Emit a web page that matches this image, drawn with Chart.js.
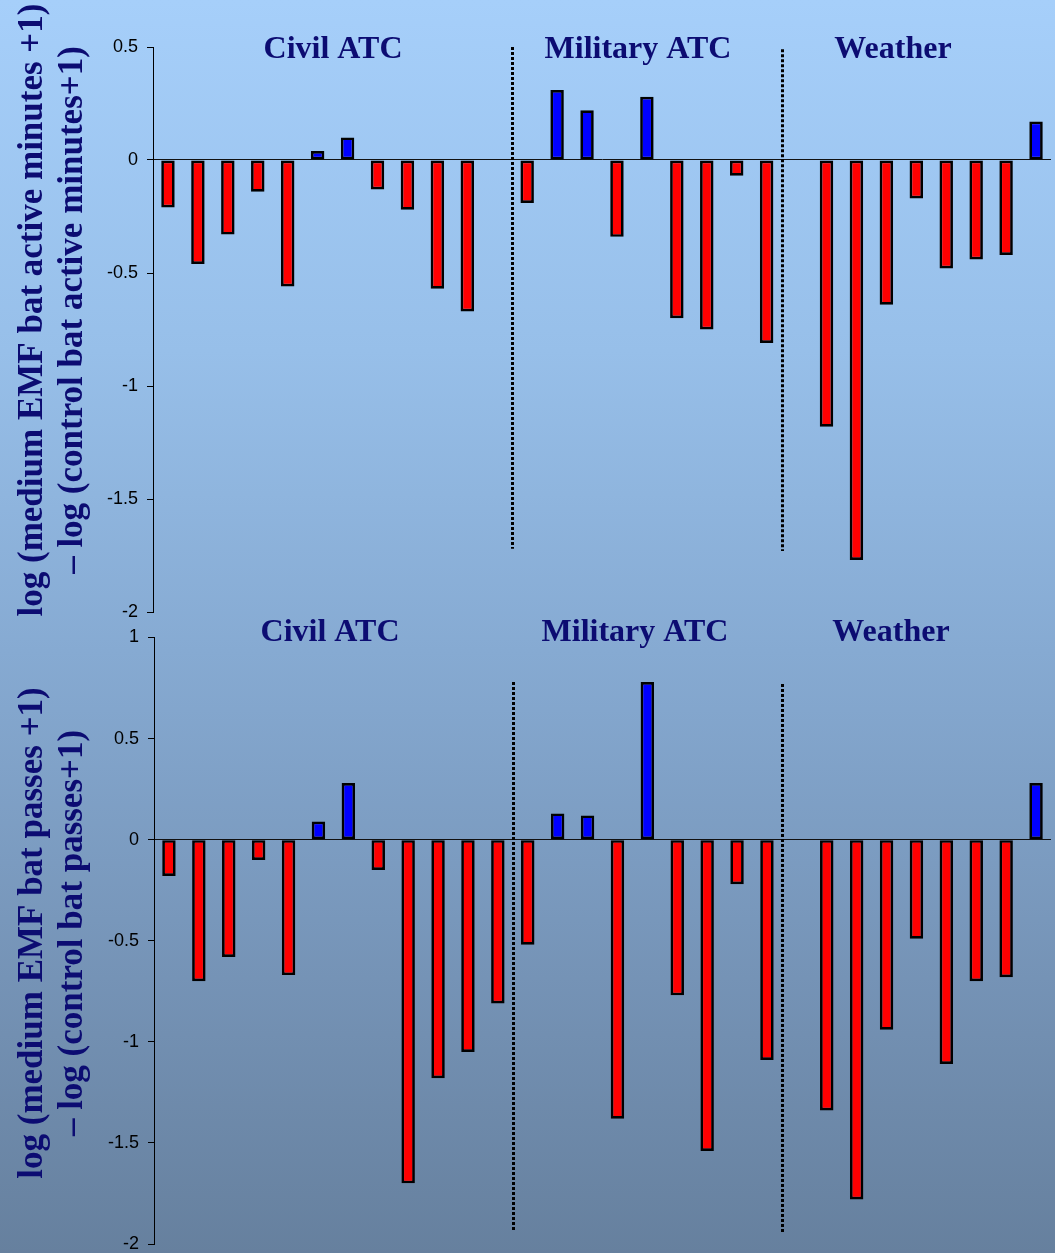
<!DOCTYPE html>
<html>
<head>
<meta charset="utf-8">
<title>EMF exposure and bat activity</title>
<script src="https://cdn.jsdelivr.net/npm/chart.js@4/dist/chart.umd.min.js"></script>
<style>
  html, body { margin: 0; padding: 0; width: 1055px; height: 1253px; overflow: hidden; }
  body { background: linear-gradient(to bottom, #a6cffa 0%, #97bfe9 28%, #86aad2 52%, #7593b6 78%, #66809e 100%); }
  canvas { position: absolute; left: 0; top: 0; }
</style>
</head>
<body>
<canvas id="activeChart" width="1055" height="1280"></canvas>
<canvas id="passesChart" width="1055" height="1280"></canvas>
<script>
// Sites: 12 civil ATC radars, 9 military ATC radars, an empty slot, 8 weather radars
const civilSites    = ['C1','C2','C3','C4','C5','C6','C7','C8','C9','C10','C11','C12'];
const militarySites = ['M1','M2','M3','M4','M5','M6','M7','M8','M9'];
const spacer        = [''];
const weatherSites  = ['W1','W2','W3','W4','W5','W6','W7','W8'];
const categories = [...civilSites, ...militarySites, ...spacer, ...weatherSites];

// log(medium EMF bat active minutes + 1) - log(control bat active minutes + 1)
const activeCivil    = [-0.21, -0.46, -0.33, -0.14, -0.56, 0.04, 0.10, -0.13, -0.22, -0.57, -0.67, null];
const activeMilitary = [-0.19, 0.31, 0.22, -0.34, 0.28, -0.70, -0.75, -0.07, -0.81];
const activeWeather  = [-1.18, -1.77, -0.64, -0.17, -0.48, -0.44, -0.42, 0.17];

// log(medium EMF bat passes + 1) - log(control bat passes + 1)
const passesCivil    = [-0.18, -0.70, -0.58, -0.10, -0.67, 0.09, 0.28, -0.15, -1.70, -1.18, -1.05, -0.81];
const passesMilitary = [-0.52, 0.13, 0.12, -1.38, 0.78, -0.77, -1.54, -0.22, -1.09];
const passesWeather  = [-1.34, -1.78, -0.94, -0.49, -1.11, -0.70, -0.68, 0.28];

// Axis ticks
const activeTicks = [0.5, 0, -0.5, -1, -1.5, -2];
const passesTicks = [1, 0.5, 0, -0.5, -1, -1.5, -2];

// Text
const groupTitles = ['Civil ATC', 'Military ATC', 'Weather'];
const activeAxisTitle = ['log (medium EMF bat active minutes +1)', '\u2013 log (control bat active minutes+1)'];
const passesAxisTitle = ['log (medium EMF bat passes +1)', '\u2013 log (control bat passes+1)'];

const NAVY = '#0c0c72';
const CANVAS_H = 1280;

// Draws the group headings, the rotated axis title and the dotted group separators
const decorPlugin = {
  id: 'decor',
  afterDatasetsDraw(chart, args, opts) {
    const ctx = chart.ctx;
    const x = chart.scales.x, y = chart.scales.y;
    ctx.save();

    // dotted separators between radar groups
    ctx.strokeStyle = '#000';
    ctx.lineWidth = 3;
    ctx.setLineDash([3, 2]);
    opts.separators.forEach(s => {
      const px = Math.round((x.getPixelForValue(s.after) + x.getPixelForValue(s.after + 1)) / 2) + 0.5;
      ctx.beginPath();
      ctx.moveTo(px, y.getPixelForValue(s.from));
      ctx.lineTo(px, y.getPixelForValue(s.to));
      ctx.stroke();
    });
    ctx.setLineDash([]);

    // group headings
    ctx.fillStyle = NAVY;
    ctx.font = 'bold 32px "Liberation Serif", "Times New Roman", serif';
    ctx.textAlign = 'center';
    ctx.textBaseline = 'alphabetic';
    opts.headings.forEach((h, i) => ctx.fillText(groupTitles[i], h.x, h.y));

    // two-line rotated axis title
    ctx.font = 'bold 35px "Liberation Serif", "Times New Roman", serif';
    opts.axisTitle.lines.forEach((line, i) => {
      ctx.save();
      ctx.translate(opts.axisTitle.baselines[i], opts.axisTitle.center);
      ctx.rotate(-Math.PI / 2);
      ctx.fillText(line, 0, 0);
      ctx.restore();
    });
    ctx.restore();
  }
};

function makeChart(id, civil, military, weather, ticks, area, decor) {
  const values = [...civil, ...military, null, ...weather];
  return new Chart(document.getElementById(id), {
    type: 'bar',
    data: {
      labels: categories,
      datasets: [{
        data: values,
        backgroundColor: c => (c.raw < 0 ? '#ff0000' : '#0000ff'),
        borderColor: '#000',
        borderWidth: 2.7,
        borderSkipped: false,
        categoryPercentage: 1,
        barPercentage: 0.45
      }]
    },
    options: {
      responsive: false,
      animation: false,
      events: [],
      layout: { padding: { left: 0, right: 1055 - area.right, top: area.top, bottom: CANVAS_H - area.bottom } },
      plugins: { legend: { display: false }, tooltip: { enabled: false }, decor },
      scales: {
        x: { display: false },
        y: {
          min: ticks[ticks.length - 1],
          max: ticks[0],
          afterBuildTicks: s => { s.ticks = ticks.map(v => ({ value: v })); },
          afterFit: s => { s.width = area.left; },
          border: { display: true, color: '#000', width: 1 },
          grid: {
            drawOnChartArea: true,
            color: c => (c.tick && c.tick.value === 0 ? '#111' : 'rgba(0,0,0,0)'),
            lineWidth: 1,
            tickColor: '#000',
            tickLength: 6
          },
          ticks: {
            color: '#000',
            padding: 9,
            font: { family: '"Liberation Sans", Arial, sans-serif', size: 18, lineHeight: 1 },
            callback: v => String(v)
          }
        }
      }
    },
    plugins: [decorPlugin]
  });
}

makeChart('activeChart', activeCivil, activeMilitary, activeWeather, activeTicks,
  { left: 153, right: 1051, top: 47, bottom: 612 },
  {
    separators: [{ after: 11, from: 0.5, to: -1.72 }, { after: 20, from: 0.49, to: -1.73 }],
    headings: [{ x: 333, y: 58 }, { x: 638, y: 58 }, { x: 893, y: 58 }],
    axisTitle: { lines: activeAxisTitle, baselines: [41.5, 82], center: 310 }
  });

makeChart('passesChart', passesCivil, passesMilitary, passesWeather, passesTicks,
  { left: 154, right: 1051, top: 637.5, bottom: 1244 },
  {
    separators: [{ after: 11, from: 0.78, to: -1.94 }, { after: 20, from: 0.77, to: -1.95 }],
    headings: [{ x: 330, y: 641 }, { x: 635, y: 641 }, { x: 891, y: 641 }],
    axisTitle: { lines: passesAxisTitle, baselines: [41.5, 82], center: 933 }
  });
</script>
</body>
</html>
